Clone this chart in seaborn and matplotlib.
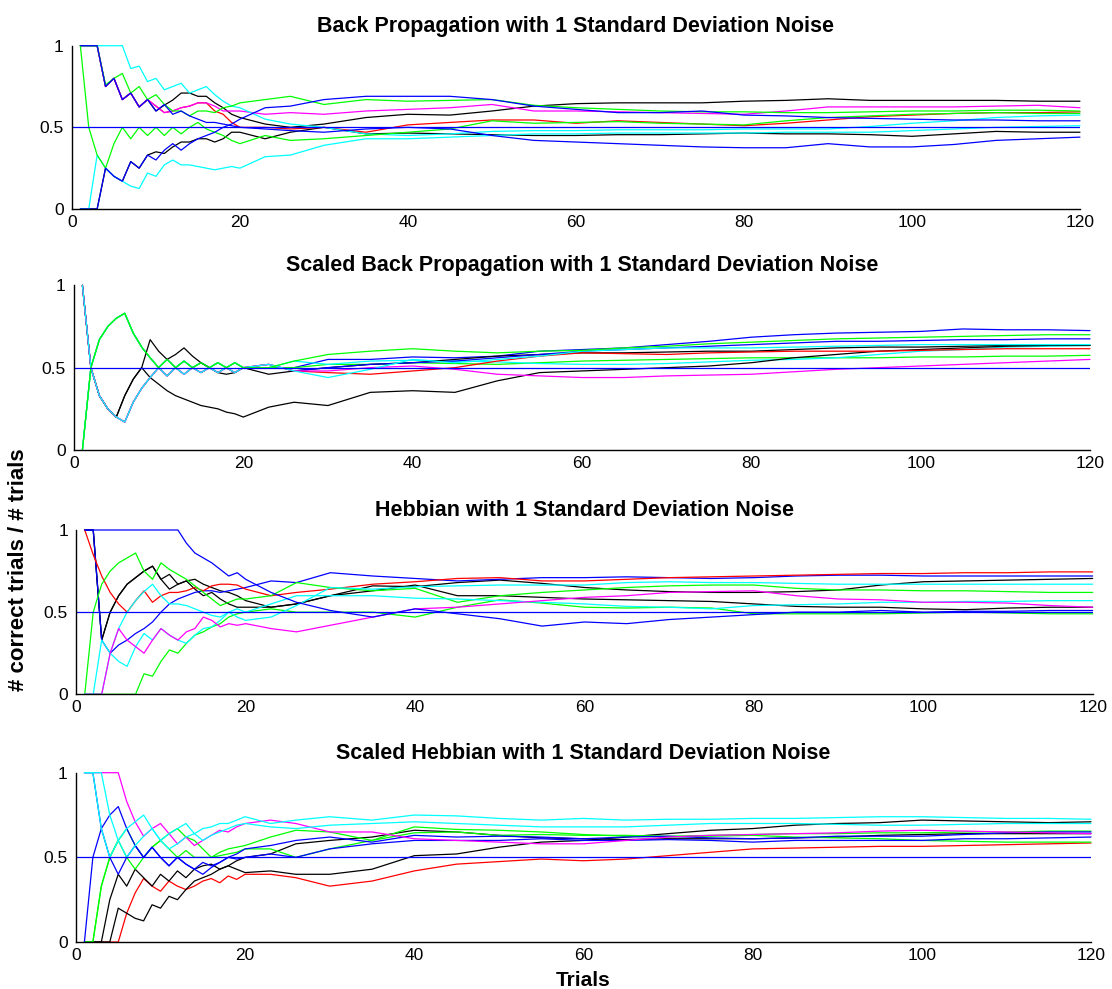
import matplotlib
matplotlib.use("Agg")
import matplotlib.pyplot as plt
import seaborn as sns

# trial numbers the curves are read at
trials = [1, 2, 3, 4, 5, 6, 7, 8, 9, 10, 11, 12, 13, 14, 15, 16, 17, 18, 19, 20,
          23, 26, 30, 35,
          40, 45, 50, 55, 60, 65, 70, 75, 80, 85, 90, 95, 100, 105, 110, 115, 120]
chance = 0.5

# MATLAB style pure colours
B, G, R, C, M, K = "#0000ff", "#00ff00", "#ff0000", "#00ffff", "#ff00ff", "#000000"

# --- Back Propagation ---
bp_black_lo = [0, 0, 0, 0.25, 0.2, 0.17, 0.29, 0.25, 0.33, 0.35, 0.34, 0.38,
               0.41, 0.41, 0.43, 0.43, 0.41, 0.43, 0.47, 0.47,
               0.43, 0.47, 0.5, 0.46,
               0.465, 0.46, 0.455, 0.45, 0.45, 0.455, 0.455, 0.46, 0.465, 0.46, 0.46, 0.455, 0.445, 0.46, 0.475, 0.47, 0.47]
bp_black_hi = [1, 1, 1, 0.75, 0.8, 0.67, 0.71, 0.625, 0.67, 0.6, 0.636, 0.667,
               0.71, 0.71, 0.69, 0.69, 0.65, 0.62, 0.58, 0.56,
               0.52, 0.5, 0.52, 0.56,
               0.58, 0.575, 0.6, 0.63, 0.645, 0.65, 0.65, 0.65, 0.66, 0.665, 0.675, 0.665, 0.665, 0.665, 0.665, 0.66, 0.66]
bp_red = [1, 1, 1, 0.75, 0.8, 0.67, 0.71, 0.625, 0.67, 0.63, 0.59, 0.6,
          0.62, 0.63, 0.65, 0.65, 0.6, 0.58, 0.53, 0.5,
          0.5, 0.49, 0.5, 0.47,
          0.515, 0.53, 0.545, 0.545, 0.525, 0.54, 0.53, 0.52, 0.51, 0.525, 0.545, 0.565, 0.575, 0.585, 0.59, 0.59, 0.595]
bp_magenta = [1, 1, 1, 0.75, 0.8, 0.67, 0.71, 0.625, 0.67, 0.63, 0.59, 0.6,
              0.62, 0.63, 0.65, 0.65, 0.63, 0.6, 0.6, 0.6,
              0.58, 0.59, 0.58, 0.6,
              0.61, 0.62, 0.64, 0.6, 0.6, 0.595, 0.59, 0.585, 0.58, 0.6, 0.625, 0.625, 0.625, 0.625, 0.63, 0.635, 0.62]
bp_cyan_lo = [0, 0, 0.33, 0.25, 0.2, 0.17, 0.14, 0.125, 0.22, 0.2, 0.27, 0.3,
              0.27, 0.27, 0.26, 0.25, 0.24, 0.25, 0.26, 0.25,
              0.32, 0.33, 0.39, 0.43,
              0.43, 0.44, 0.45, 0.46, 0.46, 0.465, 0.465, 0.465, 0.465, 0.47, 0.47, 0.47, 0.48, 0.49, 0.5, 0.505, 0.51]
bp_cyan_hi = [1, 1, 1, 1, 1, 1, 0.86, 0.875, 0.78, 0.8, 0.73, 0.75,
              0.77, 0.71, 0.73, 0.75, 0.7, 0.66, 0.63, 0.62,
              0.55, 0.52, 0.5, 0.46,
              0.45, 0.46, 0.475, 0.48, 0.48, 0.485, 0.485, 0.485, 0.49, 0.49, 0.49, 0.505, 0.525, 0.54, 0.56, 0.57, 0.575]
bp_green_lo = [1.0, 0.5, 0.33, 0.25, 0.4, 0.5, 0.43, 0.5, 0.45, 0.5, 0.45, 0.5,
               0.46, 0.5, 0.53, 0.49, 0.47, 0.45, 0.42, 0.4,
               0.45, 0.42, 0.43, 0.45,
               0.47, 0.49, 0.54, 0.525, 0.53, 0.535, 0.525, 0.52, 0.515, 0.54, 0.56, 0.57, 0.58, 0.585, 0.59, 0.585, 0.585]
bp_green_hi = [1, 1, 1, 0.76, 0.8, 0.83, 0.71, 0.75, 0.67, 0.7, 0.64, 0.6,
               0.6, 0.57, 0.6, 0.6, 0.59, 0.62, 0.63, 0.65,
               0.67, 0.69, 0.64, 0.67,
               0.66, 0.665, 0.67, 0.635, 0.62, 0.61, 0.6, 0.595, 0.595, 0.59, 0.59, 0.595, 0.6, 0.6, 0.605, 0.605, 0.6]
bp_blue_hi = [0, 0, 0, 0.25, 0.2, 0.17, 0.29, 0.25, 0.33, 0.3, 0.36, 0.4,
              0.36, 0.4, 0.43, 0.45, 0.47, 0.5, 0.52, 0.55,
              0.62, 0.63, 0.67, 0.69,
              0.69, 0.69, 0.67, 0.63, 0.61, 0.59, 0.59, 0.6, 0.575, 0.57, 0.56, 0.555, 0.55, 0.545, 0.545, 0.54, 0.54]
bp_blue_lo = [1, 1, 1, 0.75, 0.8, 0.67, 0.71, 0.625, 0.67, 0.6, 0.64, 0.58,
              0.6, 0.57, 0.55, 0.53, 0.53, 0.52, 0.51, 0.5,
              0.49, 0.48, 0.47, 0.49,
              0.5, 0.49, 0.45, 0.42, 0.41, 0.4, 0.39, 0.38, 0.375, 0.375, 0.4, 0.38, 0.38, 0.395, 0.42, 0.43, 0.44]
bp_lines = [bp_black_lo, bp_black_hi, bp_red, bp_magenta, bp_cyan_lo,
            bp_cyan_hi, bp_green_lo, bp_green_hi, bp_blue_hi, bp_blue_lo]
bp_colors = [K, K, R, M, C, C, G, G, B, B]

# --- Scaled Back Propagation ---
sbp_blue_a = [0, 0.5, 0.67, 0.75, 0.8, 0.83, 0.71, 0.625, 0.56, 0.5, 0.55, 0.5,
              0.54, 0.5, 0.53, 0.5, 0.53, 0.5, 0.53, 0.5,
              0.5, 0.5, 0.55, 0.55,
              0.565, 0.56, 0.57, 0.6, 0.61, 0.62, 0.64, 0.66, 0.685, 0.7, 0.71, 0.715, 0.72, 0.735, 0.73, 0.73, 0.725]
sbp_green_b = [0, 0.5, 0.67, 0.75, 0.8, 0.83, 0.71, 0.625, 0.56, 0.5, 0.55, 0.5,
               0.54, 0.5, 0.53, 0.5, 0.53, 0.5, 0.53, 0.5,
               0.5, 0.5, 0.52, 0.52,
               0.53, 0.525, 0.52, 0.53, 0.54, 0.545, 0.55, 0.555, 0.56, 0.56, 0.56, 0.56, 0.565, 0.565, 0.57, 0.57, 0.575]
sbp_cyan_b = [0, 0.5, 0.67, 0.75, 0.8, 0.83, 0.71, 0.625, 0.56, 0.5, 0.55, 0.5,
              0.54, 0.5, 0.53, 0.5, 0.53, 0.5, 0.53, 0.5,
              0.5, 0.54, 0.52, 0.54,
              0.545, 0.54, 0.535, 0.525, 0.52, 0.52, 0.525, 0.535, 0.545, 0.55, 0.56, 0.58, 0.6, 0.61, 0.625, 0.63, 0.635]
sbp_black_a = [1, 0.5, 0.33, 0.25, 0.2, 0.33, 0.43, 0.5, 0.67, 0.6, 0.55, 0.58,
               0.62, 0.57, 0.53, 0.5, 0.47, 0.46, 0.47, 0.5,
               0.46, 0.48, 0.5, 0.52,
               0.53, 0.55, 0.57, 0.58, 0.59, 0.59, 0.595, 0.6, 0.6, 0.61, 0.62, 0.625, 0.625, 0.63, 0.635, 0.635, 0.635]
sbp_black_b = [1, 0.5, 0.33, 0.25, 0.2, 0.33, 0.43, 0.5, 0.44, 0.4, 0.36, 0.33,
               0.31, 0.29, 0.27, 0.26, 0.25, 0.23, 0.22, 0.2,
               0.26, 0.29, 0.27, 0.35,
               0.36, 0.35, 0.42, 0.47, 0.48, 0.49, 0.5, 0.51, 0.53, 0.56, 0.58, 0.6, 0.61, 0.62, 0.63, 0.635, 0.635]
sbp_blue_b = [1, 0.5, 0.33, 0.25, 0.2, 0.17, 0.29, 0.375, 0.44, 0.5, 0.45, 0.5,
              0.46, 0.5, 0.47, 0.5, 0.47, 0.5, 0.47, 0.5,
              0.52, 0.48, 0.5, 0.52,
              0.53, 0.54, 0.56, 0.58, 0.6, 0.61, 0.62, 0.63, 0.64, 0.65, 0.66, 0.66, 0.665, 0.67, 0.67, 0.675, 0.675]
sbp_red = [1, 0.5, 0.33, 0.25, 0.2, 0.17, 0.29, 0.375, 0.44, 0.5, 0.45, 0.5,
           0.46, 0.5, 0.47, 0.5, 0.47, 0.5, 0.47, 0.5,
           0.52, 0.48, 0.47, 0.46,
           0.48, 0.5, 0.54, 0.57, 0.59, 0.585, 0.58, 0.59, 0.595, 0.6, 0.6, 0.6, 0.605, 0.61, 0.615, 0.615, 0.615]
sbp_magenta = [1, 0.5, 0.33, 0.25, 0.2, 0.17, 0.29, 0.375, 0.44, 0.5, 0.45, 0.5,
               0.46, 0.5, 0.47, 0.5, 0.47, 0.5, 0.47, 0.5,
               0.52, 0.48, 0.48, 0.5,
               0.51, 0.49, 0.46, 0.45, 0.44, 0.44, 0.45, 0.455, 0.46, 0.475, 0.49, 0.5, 0.51, 0.52, 0.53, 0.54, 0.55]
sbp_cyan_a = [1, 0.5, 0.33, 0.25, 0.2, 0.17, 0.29, 0.375, 0.44, 0.5, 0.45, 0.5,
              0.46, 0.5, 0.47, 0.5, 0.47, 0.5, 0.47, 0.5,
              0.52, 0.48, 0.44, 0.49,
              0.55, 0.53, 0.55, 0.57, 0.6, 0.61, 0.62, 0.62, 0.62, 0.625, 0.63, 0.635, 0.64, 0.64, 0.64, 0.64, 0.64]
sbp_green_a = [0, 0.5, 0.67, 0.75, 0.8, 0.83, 0.71, 0.625, 0.56, 0.5, 0.55, 0.5,
               0.54, 0.5, 0.53, 0.5, 0.53, 0.5, 0.53, 0.5,
               0.5, 0.54, 0.58, 0.6,
               0.615, 0.6, 0.59, 0.6, 0.605, 0.62, 0.63, 0.645, 0.655, 0.665, 0.675, 0.68, 0.685, 0.69, 0.695, 0.7, 0.7]
sbp_lines = [sbp_blue_a, sbp_green_b, sbp_cyan_b, sbp_black_a, sbp_black_b,
             sbp_blue_b, sbp_red, sbp_magenta, sbp_cyan_a, sbp_green_a]
sbp_colors = [B, G, C, K, K, B, R, M, C, G]

# --- Hebbian ---
heb_blue_top = [1, 1, 1, 1, 1, 1, 1, 1, 1, 1, 1, 1,
                0.92, 0.86, 0.83, 0.8, 0.76, 0.72, 0.74, 0.7,
                0.62, 0.56, 0.51, 0.47,
                0.52, 0.49, 0.46, 0.415, 0.44, 0.43, 0.455, 0.47, 0.485, 0.5, 0.5, 0.51, 0.5, 0.505, 0.505, 0.51, 0.51]
heb_blue_2 = [1, 1, 0.33, 0.25, 0.3, 0.33, 0.37, 0.4, 0.44, 0.5, 0.55, 0.58,
              0.6, 0.62, 0.63, 0.63, 0.62, 0.63, 0.64, 0.65,
              0.69, 0.68, 0.74, 0.72,
              0.705, 0.69, 0.7, 0.71, 0.71, 0.715, 0.71, 0.705, 0.71, 0.72, 0.725, 0.725, 0.72, 0.72, 0.72, 0.72, 0.72]
heb_red = [1, 0.85, 0.72, 0.62, 0.55, 0.5, 0.57, 0.63, 0.56, 0.6, 0.62, 0.62,
           0.63, 0.65, 0.63, 0.66, 0.67, 0.67, 0.665, 0.64,
           0.6, 0.62, 0.64, 0.67,
           0.685, 0.705, 0.71, 0.69, 0.69, 0.7, 0.71, 0.715, 0.72, 0.725, 0.73, 0.735, 0.735, 0.74, 0.74, 0.745, 0.745]
heb_black_a = [1, 1, 0.33, 0.5, 0.6, 0.67, 0.71, 0.75, 0.78, 0.7, 0.64, 0.67,
               0.69, 0.64, 0.6, 0.62, 0.58, 0.55, 0.53, 0.53,
               0.53, 0.55, 0.6, 0.63,
               0.665, 0.6, 0.6, 0.59, 0.58, 0.575, 0.57, 0.565, 0.55, 0.535, 0.53, 0.53, 0.52, 0.515, 0.525, 0.53, 0.53]
heb_black_b = [1, 1, 0.33, 0.5, 0.6, 0.67, 0.71, 0.75, 0.78, 0.7, 0.73, 0.67,
               0.69, 0.7, 0.67, 0.65, 0.63, 0.62, 0.6, 0.57,
               0.53, 0.55, 0.6, 0.66,
               0.655, 0.68, 0.695, 0.675, 0.65, 0.635, 0.625, 0.62, 0.62, 0.625, 0.635, 0.665, 0.685, 0.69, 0.695, 0.7, 0.705]
heb_green_a = [0, 0.5, 0.67, 0.75, 0.8, 0.83, 0.86, 0.75, 0.7, 0.8, 0.76, 0.73,
               0.7, 0.66, 0.62, 0.58, 0.54, 0.56, 0.58, 0.58,
               0.6, 0.68, 0.65, 0.63,
               0.645, 0.56, 0.6, 0.62, 0.635, 0.65, 0.66, 0.665, 0.665, 0.645, 0.635, 0.635, 0.63, 0.63, 0.625, 0.62, 0.62]
heb_green_b = [0, 0, 0, 0, 0, 0, 0, 0.125, 0.11, 0.2, 0.27, 0.25,
               0.31, 0.36, 0.38, 0.41, 0.43, 0.47, 0.49, 0.5,
               0.52, 0.5, 0.5, 0.5,
               0.47, 0.53, 0.575, 0.555, 0.53, 0.525, 0.53, 0.525, 0.49, 0.49, 0.49, 0.49, 0.495, 0.5, 0.495, 0.49, 0.49]
heb_cyan_a = [0, 0, 0.33, 0.25, 0.2, 0.17, 0.29, 0.37, 0.33, 0.4, 0.36, 0.33,
              0.31, 0.36, 0.4, 0.41, 0.45, 0.5, 0.47, 0.45,
              0.47, 0.54, 0.65, 0.64,
              0.655, 0.66, 0.665, 0.665, 0.665, 0.68, 0.685, 0.68, 0.68, 0.675, 0.67, 0.67, 0.67, 0.67, 0.67, 0.67, 0.67]
heb_cyan_b = [0, 0, 0, 0.25, 0.4, 0.5, 0.57, 0.625, 0.67, 0.6, 0.55, 0.55,
              0.54, 0.52, 0.5, 0.48, 0.47, 0.5, 0.52, 0.5,
              0.55, 0.6, 0.6, 0.6,
              0.585, 0.58, 0.57, 0.56, 0.55, 0.535, 0.53, 0.52, 0.54, 0.545, 0.55, 0.56, 0.56, 0.565, 0.565, 0.57, 0.57]
heb_magenta = [0, 0, 0, 0.25, 0.4, 0.33, 0.29, 0.25, 0.33, 0.4, 0.36, 0.33,
               0.38, 0.4, 0.47, 0.45, 0.41, 0.43, 0.42, 0.43,
               0.4, 0.38, 0.42, 0.47,
               0.52, 0.53, 0.55, 0.57, 0.59, 0.6, 0.62, 0.625, 0.63, 0.6, 0.58, 0.575, 0.56, 0.56, 0.555, 0.54, 0.53]
heb_lines = [heb_black_a, heb_black_b, heb_blue_2, heb_red, heb_green_a,
             heb_green_b, heb_cyan_a, heb_cyan_b, heb_magenta, heb_blue_top]
heb_colors = [K, K, B, R, G, G, C, C, M, B]

# --- Scaled Hebbian ---
sheb_red = [0, 0, 0, 0, 0, 0.17, 0.29, 0.375, 0.33, 0.3, 0.36, 0.33,
            0.31, 0.33, 0.36, 0.375, 0.35, 0.39, 0.37, 0.4,
            0.4, 0.38, 0.33, 0.36,
            0.42, 0.46, 0.475, 0.49, 0.48, 0.49, 0.51, 0.53, 0.55, 0.555, 0.56, 0.565, 0.565, 0.57, 0.575, 0.58, 0.585]
sheb_black_a = [0, 0, 0, 0.25, 0.4, 0.33, 0.43, 0.38, 0.33, 0.4, 0.36, 0.42,
                0.38, 0.43, 0.45, 0.46, 0.43, 0.45, 0.43, 0.41,
                0.42, 0.4, 0.4, 0.43,
                0.51, 0.52, 0.56, 0.59, 0.6, 0.62, 0.64, 0.66, 0.67, 0.69, 0.7, 0.705, 0.72, 0.715, 0.71, 0.705, 0.71]
sheb_black_b = [0, 0, 0, 0, 0.2, 0.17, 0.14, 0.125, 0.22, 0.2, 0.27, 0.25,
                0.31, 0.36, 0.38, 0.4, 0.43, 0.45, 0.48, 0.5,
                0.52, 0.58, 0.6, 0.62,
                0.66, 0.65, 0.63, 0.615, 0.61, 0.605, 0.61, 0.61, 0.61, 0.615, 0.62, 0.63, 0.635, 0.64, 0.64, 0.64, 0.64]
sheb_green_a = [0, 0, 0.33, 0.5, 0.6, 0.67, 0.57, 0.5, 0.56, 0.6, 0.64, 0.67,
                0.62, 0.6, 0.55, 0.5, 0.53, 0.55, 0.56, 0.57,
                0.62, 0.66, 0.65, 0.6,
                0.645, 0.65, 0.63, 0.635, 0.63, 0.63, 0.625, 0.63, 0.635, 0.64, 0.64, 0.645, 0.645, 0.65, 0.65, 0.655, 0.655]
sheb_green_b = [0, 0, 0.33, 0.5, 0.6, 0.5, 0.43, 0.5, 0.56, 0.6, 0.55, 0.5,
                0.54, 0.5, 0.5, 0.5, 0.51, 0.52, 0.53, 0.55,
                0.55, 0.5, 0.55, 0.6,
                0.68, 0.665, 0.66, 0.65, 0.635, 0.625, 0.62, 0.625, 0.63, 0.62, 0.615, 0.61, 0.6, 0.595, 0.59, 0.59, 0.59]
sheb_blue_a = [0, 0.5, 0.67, 0.75, 0.8, 0.67, 0.57, 0.5, 0.56, 0.5, 0.45, 0.5,
               0.46, 0.43, 0.47, 0.45, 0.47, 0.5, 0.52, 0.55,
               0.57, 0.6, 0.62, 0.59,
               0.63, 0.62, 0.625, 0.62, 0.61, 0.62, 0.625, 0.615, 0.61, 0.615, 0.625, 0.625, 0.625, 0.635, 0.645, 0.65, 0.65]
sheb_blue_b = [1, 1, 0.67, 0.5, 0.4, 0.5, 0.57, 0.5, 0.56, 0.5, 0.45, 0.5,
               0.46, 0.43, 0.4, 0.44, 0.47, 0.5, 0.49, 0.5,
               0.52, 0.5, 0.55, 0.58,
               0.6, 0.6, 0.6, 0.61, 0.6, 0.6, 0.605, 0.6, 0.59, 0.6, 0.6, 0.6, 0.6, 0.61, 0.61, 0.615, 0.62]
sheb_magenta = [1, 1, 1, 1, 1, 0.83, 0.71, 0.625, 0.67, 0.7, 0.64, 0.58,
                0.62, 0.57, 0.6, 0.63, 0.66, 0.65, 0.68, 0.7,
                0.72, 0.7, 0.65, 0.65,
                0.61, 0.6, 0.59, 0.58, 0.58, 0.6, 0.62, 0.63, 0.635, 0.64, 0.645, 0.655, 0.66, 0.655, 0.65, 0.645, 0.64]
sheb_cyan_b = [1, 1, 1, 0.75, 0.6, 0.5, 0.57, 0.625, 0.67, 0.6, 0.64, 0.67,
               0.7, 0.64, 0.6, 0.63, 0.65, 0.67, 0.69, 0.7,
               0.68, 0.67, 0.69, 0.7,
               0.71, 0.7, 0.69, 0.68, 0.68, 0.68, 0.69, 0.7, 0.7, 0.7, 0.695, 0.69, 0.69, 0.695, 0.7, 0.7, 0.7]
sheb_cyan_a = [1, 1, 0.67, 0.5, 0.6, 0.67, 0.71, 0.75, 0.67, 0.6, 0.55, 0.58,
               0.62, 0.64, 0.67, 0.68, 0.7, 0.7, 0.72, 0.74,
               0.7, 0.72, 0.74, 0.72,
               0.75, 0.745, 0.73, 0.72, 0.73, 0.72, 0.725, 0.725, 0.73, 0.73, 0.735, 0.74, 0.74, 0.735, 0.73, 0.73, 0.725]
sheb_lines = [sheb_red, sheb_black_a, sheb_black_b, sheb_green_a, sheb_green_b,
              sheb_blue_a, sheb_blue_b, sheb_magenta, sheb_cyan_b, sheb_cyan_a]
sheb_colors = [R, K, K, G, G, B, B, M, C, C]

titles = ["Back Propagation with 1 Standard Deviation Noise",
          "Scaled Back Propagation with 1 Standard Deviation Noise",
          "Hebbian with 1 Standard Deviation Noise",
          "Scaled Hebbian with 1 Standard Deviation Noise"]

sns.set_style("white")
plt.rcParams["font.family"] = ["Liberation Sans", "DejaVu Sans"]
plt.rcParams["text.color"] = "black"
plt.rcParams["xtick.color"] = "black"
plt.rcParams["ytick.color"] = "black"

fig = plt.figure(figsize=(11.12, 9.89), dpi=100)

# axes boxes in figure fractions (left, bottom, width, height)
boxes = [(0.0647, 0.7887, 0.9065, 0.1651),
         (0.0665, 0.5450, 0.9137, 0.1665),
         (0.0686, 0.2980, 0.9140, 0.1661),
         (0.0683, 0.0475, 0.9128, 0.1712)]

panels = [(bp_lines, bp_colors), (sbp_lines, sbp_colors),
          (heb_lines, heb_colors), (sheb_lines, sheb_colors)]

for box, title, (lines, colors) in zip(boxes, titles, panels):
    ax = fig.add_axes(box)
    for vals, c in zip(lines, colors):
        sns.lineplot(x=trials, y=vals, color=c, lw=0.9, ax=ax,
                     estimator=None, clip_on=False)
    ax.axhline(chance, color=B, lw=0.9)
    ax.set_xlim(0, 120)
    ax.set_ylim(0, 1)
    ax.set_xticks([0, 20, 40, 60, 80, 100, 120])
    ax.set_yticks([0, 0.5, 1])
    ax.set_yticklabels(["0", "0.5", "1"])
    ax.tick_params(axis="x", direction="in", length=8, width=1, labelsize=12.5, pad=4)
    ax.tick_params(axis="y", length=0, labelsize=12.5, pad=6)
    sns.despine(ax=ax)
    for s in ["left", "bottom"]:
        ax.spines[s].set_color("black")
        ax.spines[s].set_linewidth(1.0)
    ax.set_title(title, fontweight="bold", fontsize=15.5, pad=10, color="black")
    ax.set_xlabel("")
    ax.set_ylabel("")

fig.text(0.017, 0.424, "# correct trials / # trials", rotation=90,
         fontweight="bold", fontsize=16, ha="center", va="center")
fig.text(0.524, 0.009, "Trials", fontweight="bold", fontsize=15,
         ha="center", va="center")

fig.savefig("out.png", dpi=100)
plt.close(fig)
